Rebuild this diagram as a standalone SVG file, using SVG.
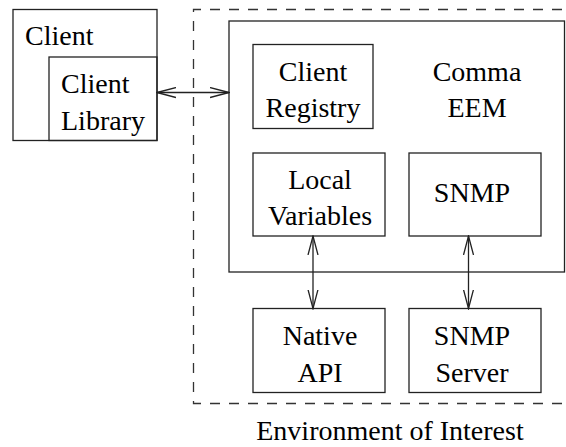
<svg xmlns="http://www.w3.org/2000/svg" width="566" height="447" viewBox="0 0 566 447">
<defs>
<style>
.box{fill:none;stroke:#222;stroke-width:1.3}
.dash{fill:none;stroke:#333;stroke-width:1.3;stroke-dasharray:10 9}
.ln{fill:none;stroke:#222;stroke-width:1.3}
</style>
<marker id="ah" viewBox="0 0 20 12" refX="19" refY="6" markerWidth="20" markerHeight="12" markerUnits="userSpaceOnUse" orient="auto-start-reverse">
<path d="M0,1 L19,6 L0,11" fill="none" stroke="#222" stroke-width="1.3"/>
</marker>
</defs>
<rect width="566" height="447" fill="#fff"/>
<g font-family="Times New Roman, Liberation Serif, serif" font-size="28" fill="#000">
<g id="environment">
<path class="dash" d="M600,9.5 H193.5 V403.5 H600"/>
<text text-anchor="middle" x="390" y="440">Environment of Interest</text>
</g>
<g id="client">
<rect class="box" x="13" y="9.5" width="144" height="131"/>
<text x="25" y="45">Client</text>
</g>
<g id="client-library">
<rect class="box" x="49" y="57" width="108" height="83.5" stroke-width="1.6"/>
<text x="61" y="92.5">Client</text>
<text x="61" y="129.5">Library</text>
</g>
<g id="comma-eem">
<rect class="box" x="229" y="21" width="335.5" height="251"/>
<text text-anchor="middle" x="477" y="81">Comma</text>
<text text-anchor="middle" x="477" y="117">EEM</text>
</g>
<g id="client-registry">
<rect class="box" x="253" y="44.5" width="120" height="84"/>
<text text-anchor="middle" x="313" y="81">Client</text>
<text text-anchor="middle" x="313" y="117">Registry</text>
</g>
<g id="local-variables">
<rect class="box" x="253" y="153" width="132" height="83"/>
<text text-anchor="middle" x="320" y="188.5">Local</text>
<text text-anchor="middle" x="320" y="225">Variables</text>
</g>
<g id="snmp">
<rect class="box" x="409" y="153" width="132" height="83"/>
<text text-anchor="middle" x="472" y="202">SNMP</text>
</g>
<g id="native-api">
<rect class="box" x="253" y="308.5" width="132" height="84"/>
<text text-anchor="middle" x="320" y="345">Native</text>
<text text-anchor="middle" x="320" y="382">API</text>
</g>
<g id="snmp-server">
<rect class="box" x="409" y="308.5" width="132" height="84"/>
<text text-anchor="middle" x="472" y="345">SNMP</text>
<text text-anchor="middle" x="472" y="382">Server</text>
</g>
</g>
<g id="connectors">
<line class="ln" x1="157" y1="92.5" x2="229" y2="92.5" marker-start="url(#ah)" marker-end="url(#ah)"/>
<line class="ln" x1="313" y1="236" x2="313" y2="308.5" marker-start="url(#ah)" marker-end="url(#ah)"/>
<line class="ln" x1="468.5" y1="236" x2="468.5" y2="308.5" marker-start="url(#ah)" marker-end="url(#ah)"/>
</g>
</svg>
